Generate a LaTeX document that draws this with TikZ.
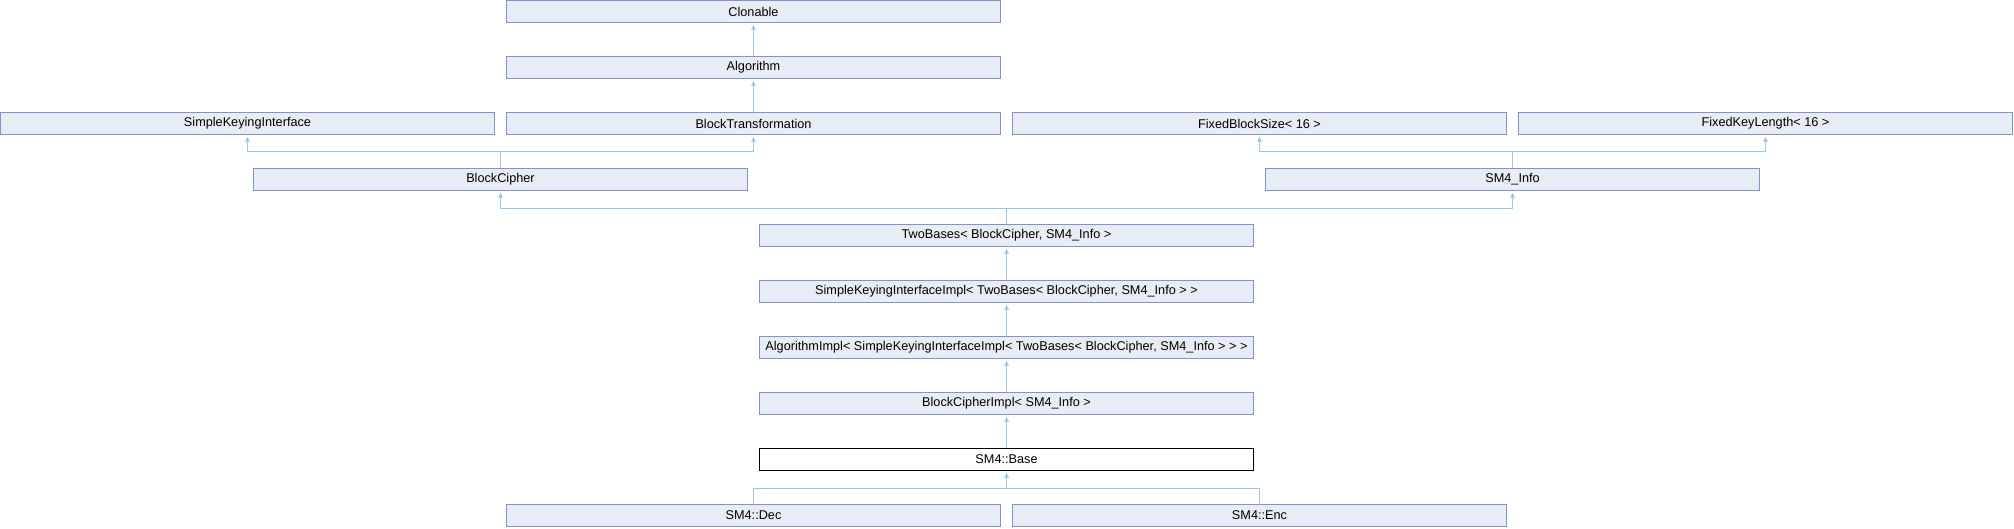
\documentclass[tikz,border=0pt]{standalone}
\usepackage{fontspec}
\setmainfont{Liberation Sans}
\usepackage{tikz}
\usetikzlibrary{arrows.meta}
\definecolor{boxfill}{RGB}{232,236,245}
\definecolor{boxline}{RGB}{125,148,205}
\definecolor{edgeblue}{RGB}{150,200,234}
\tikzstyle{block} = [rectangle, draw=boxline, fill=boxfill, line width=1pt,
                 minimum width=494pt, minimum height=22pt, inner sep=0pt,
                 font=\fontsize{12.7}{14}\selectfont]
\tikzstyle{branch} = [draw=edgeblue, line width=1pt]
\tikzstyle{up} = [branch, -{Triangle[width=4.5pt,length=4.5pt]}, shorten >=2pt]

\begin{document}
\begin{tikzpicture}[x=1pt,y=-1pt]
\useasboundingbox (0,0) rectangle (2014,528);

\node [block] at (753.5,11.5) (clon) {Clonable};
\node [block] at (753.5,67.5) (alg) {Algorithm};
\node [block] at (247.5,123.5) (ski) {SimpleKeyingInterface};
\node [block] at (753.5,123.5) (bt) {BlockTransformation};
\node [block] at (1259.5,123.5) (fbs) {FixedBlockSize< 16 >};
\node [block] at (1765.5,123.5) (fkl) {FixedKeyLength< 16 >};
\node [block] at (500.5,179.5) (bc) {BlockCipher};
\node [block] at (1512.5,179.5) (info) {SM4\_Info};
\node [block] at (1006.5,235.5) (two) {TwoBases< BlockCipher, SM4\_Info >};
\node [block] at (1006.5,291.5) (skii) {SimpleKeyingInterfaceImpl< TwoBases< BlockCipher, SM4\_Info > >};
\node [block] at (1006.5,347.5) (algi) {AlgorithmImpl< SimpleKeyingInterfaceImpl< TwoBases< BlockCipher, SM4\_Info > > >};
\node [block] at (1006.5,403.5) (bci) {BlockCipherImpl< SM4\_Info >};
\node [block, fill=white, draw=black] at (1006.5,459.5) (base) {SM4::Base};
\node [block] at (753.5,515.5) (dec) {SM4::Dec};
\node [block] at (1259.5,515.5) (enc) {SM4::Enc};

\coordinate (bcbar) at (500.5,151.5);
\coordinate (infobar) at (1512.5,151.5);
\coordinate (twobar) at (1006.5,208);
\coordinate (basebar) at (1006.5,488);

\path [up] (alg.north) -- (clon.south);
\path [up] (bt.north) -- (alg.south);

\path [branch] (bc.north) -- (bcbar);
\path [up] (bcbar) -| (ski.south);
\path [up] (bcbar) -| (bt.south);

\path [branch] (info.north) -- (infobar);
\path [up] (infobar) -| (fbs.south);
\path [up] (infobar) -| (fkl.south);

\path [branch] (two.north) -- (twobar);
\path [up] (twobar) -| (bc.south);
\path [up] (twobar) -| (info.south);

\path [up] (skii.north) -- (two.south);
\path [up] (algi.north) -- (skii.south);
\path [up] (bci.north) -- (algi.south);
\path [up] (base.north) -- (bci.south);

\path [branch] (dec.north) |- (basebar);
\path [branch] (enc.north) |- (basebar);
\path [up] (basebar) -- (base.south);

\end{tikzpicture}
\end{document}
